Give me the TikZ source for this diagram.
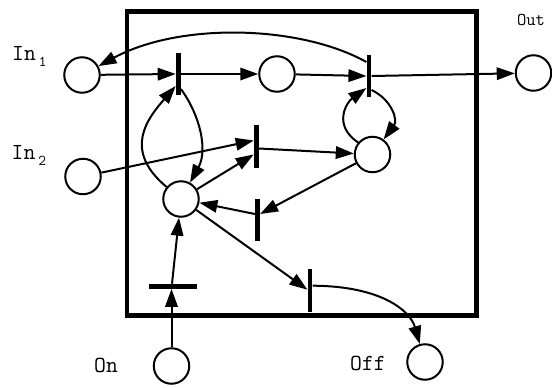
\documentclass[tikz,border=0pt]{standalone}
\usetikzlibrary{arrows.meta}
\begin{document}
\begin{tikzpicture}[x=1pt,y=-1pt,
  place/.style={circle,draw,line width=2pt,minimum size=35.5pt,inner sep=0pt},
  vbar/.style={rectangle,fill=black,minimum width=4.8pt,minimum height=42.5pt,inner sep=0pt},
  hbar/.style={rectangle,fill=black,minimum width=48pt,minimum height=4.8pt,inner sep=0pt},
  arc/.style={line width=2pt,-{Triangle[length=18pt,width=12.5pt]}},
  lab/.style={font=\ttfamily,inner sep=0pt,anchor=base west}]
\useasboundingbox (0,0) rectangle (552,388);
% frame
\draw[line width=4.6pt] (127,11.3) rectangle (476.5,315.5);
% places
\node[place] (In1) at (82,75) {};
\node[place] (P2)  at (277,74) {};
\node[place] (Out) at (533.5,73) {};
\node[place] (In2) at (83,176.5) {};
\node[place] (P5)  at (372.5,154.5) {};
\node[place] (P6)  at (181,199) {};
\node[place] (On)  at (171.5,366) {};
\node[place] (Off) at (425,362) {};
% transitions
\node[vbar] (T1) at (178.3,74) {};
\node[vbar] (T2) at (369,76) {};
\node[vbar] (T3) at (256.3,146.5) {};
\node[vbar] (T4) at (257.5,220) {};
\node[hbar] (T5) at (173,286.3) {};
\node[vbar] (T6) at (310,290.7) {};
% labels
\node[lab] (LIn1) at (12,60.5) {{\fontsize{23}{23}\selectfont In}\kern3pt\raisebox{-6pt}{\fontsize{15}{15}\selectfont 1}};
\node[lab] (LIn2) at (11.5,159.5) {{\fontsize{23}{23}\selectfont In}\kern3pt\raisebox{-6pt}{\fontsize{15}{15}\selectfont 2}};
\node[lab] (LOut) at (517,25.5) {\fontsize{18}{18}\selectfont Out};
\node[lab] (LOn) at (94,372.5) {\fontsize{23}{23}\selectfont On};
\node[lab] (LOff) at (350,370.5) {\fontsize{23}{23}\selectfont Off};
% arcs
\draw[arc] (In1) -- (T1.west);
\draw[arc] (T1.east) -- (P2);
\draw[arc] (P2) -- (T2.west);
\draw[arc] (T2.east) -- (Out);
\draw[arc] ([yshift=14pt]T2.west) .. controls (300,25) and (180,22) .. (In1);
\draw[arc] (P6.140) .. controls (122,150) and (148,118) .. ([yshift=-12pt]T1.west);
\draw[arc] ([yshift=-15pt]T1.east) .. controls (200,115) and (208,150) .. (P6);
\draw[arc] (In2) -- ([yshift=6pt]T3.west);
\draw[arc] (P6) -- ([yshift=-8pt]T3.west);
\draw[arc] ([yshift=-2pt]T3.east) -- (P5);
\draw[arc] (P5.140) .. controls (332,125) and (347,102) .. ([yshift=-12pt]T2.west);
\draw[arc] ([yshift=-14pt]T2.east) .. controls (392,100) and (398,120) .. (P5);
\draw[arc] (P5) -- ([yshift=6pt]T4.east);
\draw[arc] ([yshift=6pt]T4.west) -- (P6);
\draw[arc] (On.north) -- (On.north |- T5.south);
\draw[arc] ([xshift=-1pt]T5.north) -- (P6);
\draw[arc] (P6) -- ([yshift=1pt]T6.west);
\draw[arc] ([yshift=5pt]T6.east) .. controls (380,286) and (410,310) .. (Off);
\end{tikzpicture}
\end{document}
